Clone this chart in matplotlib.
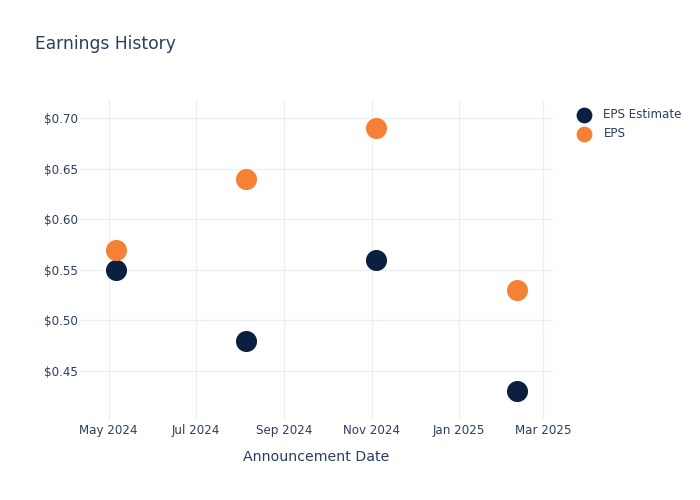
import matplotlib
matplotlib.use("Agg")
import matplotlib.pyplot as plt
import matplotlib.dates as mdates
from matplotlib.ticker import FuncFormatter
import pandas as pd

dates = ["2024-05-06", "2024-08-05", "2024-11-04", "2025-02-11"]
eps_estimate = [0.55, 0.48, 0.56, 0.43]
eps_actual = [0.57, 0.64, 0.69, 0.53]
x_ticks = ["2024-05-01", "2024-07-01", "2024-09-01", "2024-11-01", "2025-01-01", "2025-03-01"]
y_ticks = [0.45, 0.50, 0.55, 0.60, 0.65, 0.70]

text_color = "#2a3f5f"
grid_color = "#ebf0f8"
navy = "#0b1f41"
orange = "#f58137"

x = pd.to_datetime(dates)

fig = plt.figure(figsize=(7, 5), dpi=100)
ax = fig.add_axes([80/700, 80/500, (553-80)/700, (420-100)/500])

ax.scatter(x, eps_estimate, s=230, color=navy, label="EPS Estimate", zorder=3, linewidths=0)
ax.scatter(x, eps_actual, s=230, color=orange, label="EPS", zorder=3, linewidths=0)

ax.set_xlim(pd.Timestamp("2024-04-11"), pd.Timestamp("2025-03-08"))
ax.set_ylim(0.4016, 0.7178)

ax.set_xticks(pd.to_datetime(x_ticks))
ax.xaxis.set_major_formatter(mdates.DateFormatter("%b %Y"))
ax.set_yticks(y_ticks)
ax.yaxis.set_major_formatter(FuncFormatter(lambda v, p: f"${v:.2f}"))

for s in ax.spines.values():
    s.set_visible(False)
ax.grid(True, color=grid_color, linewidth=1)
ax.set_axisbelow(True)
ax.tick_params(length=0, labelsize=8.6, colors=text_color)
ax.tick_params(axis="x", pad=3)
ax.tick_params(axis="y", pad=1.5)

ax.set_xlabel("Announcement Date", fontsize=10.2, color=text_color, labelpad=9)

fig.text(35/700, 1-44/500, "Earnings History", fontsize=12.3, color=text_color, va="center", ha="left")

leg = ax.legend(loc="upper left", bbox_to_anchor=(570/700, 1-103/500), bbox_transform=fig.transFigure,
                frameon=False, fontsize=8.6, labelcolor=text_color, markerscale=0.75,
                handletextpad=0.9, labelspacing=0.5, borderaxespad=0, handlelength=1.5)

fig.savefig("out.png", dpi=100)
